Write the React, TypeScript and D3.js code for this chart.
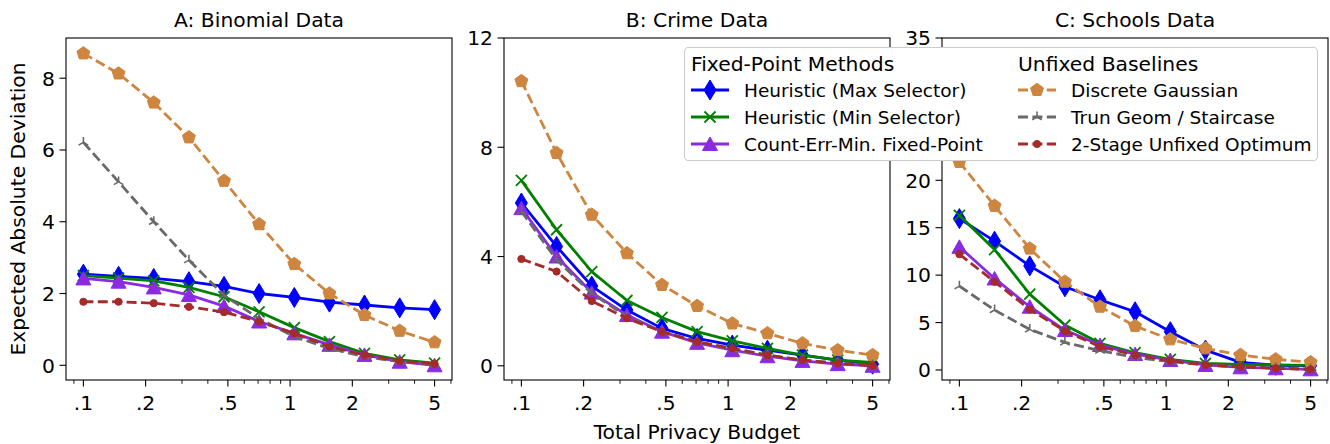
import React from 'react';
import * as d3 from 'd3';

// privacy budgets (x)
const budgets = [0.1, 0.148, 0.219, 0.324, 0.479, 0.708, 1.048, 1.55, 2.29, 3.39, 5];
const xMajor = [0.1, 0.2, 0.5, 1, 2, 5];
const xMajorLabels = ['.1', '.2', '.5', '1', '2', '5'];
const xMinor = [0.09, 0.3, 0.4, 0.6, 0.7, 0.8, 0.9, 3, 4, 6];

// A: Binomial
const binomMax = [2.54, 2.48, 2.42, 2.33, 2.2, 2.0, 1.89, 1.76, 1.68, 1.6, 1.55];
const binomMin = [2.5, 2.43, 2.35, 2.17, 1.91, 1.49, 1.05, 0.66, 0.33, 0.15, 0.06];
const binomCount = [2.42, 2.33, 2.17, 1.96, 1.65, 1.22, 0.89, 0.57, 0.29, 0.1, 0.0];
const binomGauss = [8.69, 8.13, 7.32, 6.35, 5.14, 3.93, 2.82, 2.0, 1.4, 0.96, 0.64];
const binomGeom = [6.21, 5.11, 4.0, 2.93, 1.95, 1.3, 0.8, 0.47, 0.24, 0.1, 0.03];
const binomTwoStage = [1.77, 1.77, 1.73, 1.63, 1.48, 1.22, 0.89, 0.52, 0.29, 0.12, 0.04];

// B: Crime
const crimeMax = [5.96, 4.37, 2.92, 2.04, 1.37, 1.0, 0.76, 0.57, 0.39, 0.21, 0.06];
const crimeMin = [6.79, 4.98, 3.45, 2.39, 1.77, 1.25, 0.91, 0.64, 0.39, 0.21, 0.12];
const crimeCount = [5.77, 4.0, 2.68, 1.86, 1.25, 0.84, 0.57, 0.35, 0.18, 0.06, 0.0];
const crimeGauss = [10.42, 7.79, 5.53, 4.12, 2.96, 2.19, 1.55, 1.19, 0.82, 0.57, 0.39];
const crimeGeom = [5.65, 3.88, 2.65, 1.8, 1.25, 0.88, 0.6, 0.39, 0.21, 0.09, 0.02];
const crimeTwoStage = [3.91, 3.45, 2.37, 1.74, 1.25, 0.88, 0.64, 0.39, 0.21, 0.09, 0.01];

// C: Schools
const schoolMax = [15.96, 13.58, 10.98, 8.77, 7.4, 6.14, 4.04, 2.1, 0.8, 0.5, 0.45];
const schoolMin = [16.3, 12.7, 8.0, 4.74, 2.81, 1.82, 1.12, 0.7, 0.6, 0.53, 0.49];
const schoolCount = [12.98, 9.65, 6.67, 4.21, 2.63, 1.68, 1.05, 0.53, 0.28, 0.18, 0.07];
const schoolGauss = [21.93, 17.3, 12.8, 9.3, 6.67, 4.63, 3.23, 2.28, 1.58, 1.12, 0.81];
const schoolGeom = [8.84, 6.32, 4.28, 2.91, 2.04, 1.33, 0.88, 0.53, 0.35, 0.21, 0.1];
const schoolTwoStage = [12.21, 9.3, 6.39, 4.1, 2.46, 1.58, 0.98, 0.53, 0.35, 0.18, 0.07];

const methods = [
  { key: 'max', label: 'Heuristic (Max Selector)', color: '#0000ff', marker: 'diamond', dashed: false },
  { key: 'min', label: 'Heuristic (Min Selector)', color: '#008000', marker: 'x', dashed: false },
  { key: 'count', label: 'Count-Err-Min. Fixed-Point', color: '#8a2be2', marker: 'triangle', dashed: false },
  { key: 'gauss', label: 'Discrete Gaussian', color: '#cd853f', marker: 'pentagon', dashed: true },
  { key: 'geom', label: 'Trun Geom / Staircase', color: '#696969', marker: 'tri', dashed: true },
  { key: 'two', label: '2-Stage Unfixed Optimum', color: '#a52a2a', marker: 'circle', dashed: true },
];

const panels = [
  {
    title: 'A: Binomial Data', left: 66, right: 452, yDomain: [-0.41, 9.12], yTicks: [0, 2, 4, 6, 8],
    series: { max: binomMax, min: binomMin, count: binomCount, gauss: binomGauss, geom: binomGeom, two: binomTwoStage },
  },
  {
    title: 'B: Crime Data', left: 504, right: 890, yDomain: [-0.52, 12], yTicks: [0, 4, 8, 12],
    series: { max: crimeMax, min: crimeMin, count: crimeCount, gauss: crimeGauss, geom: crimeGeom, two: crimeTwoStage },
  },
  {
    title: 'C: Schools Data', left: 942, right: 1328, yDomain: [-1.055, 35], yTicks: [0, 5, 10, 15, 20, 25, 30, 35],
    series: { max: schoolMax, min: schoolMin, count: schoolCount, gauss: schoolGauss, geom: schoolGeom, two: schoolTwoStage },
  },
];

const TOP = 38;
const BOTTOM = 380;
const FONT = 'DejaVu Sans, sans-serif';
const LW = 2.8;
const FS = 20.3;
const DASH = '10,4.4';

const Marker = ({ type, x, y, color }: { type: string; x: number; y: number; color: string }) => {
  if (type === 'diamond') {
    return <path d={`M${x},${y - 10}L${x + 6},${y}L${x},${y + 10}L${x - 6},${y}Z`} fill={color} stroke={color} strokeWidth={1} />;
  }
  if (type === 'x') {
    const r = 5.5;
    return <path d={`M${x - r},${y - r}L${x + r},${y + r}M${x - r},${y + r}L${x + r},${y - r}`} stroke={color} strokeWidth={1.8} fill="none" />;
  }
  if (type === 'triangle') {
    return <path d={`M${x},${y - 7}L${x + 7.5},${y + 6.5}L${x - 7.5},${y + 6.5}Z`} fill={color} stroke={color} strokeWidth={1} />;
  }
  if (type === 'pentagon') {
    const pts = d3.range(5).map(i => {
      const a = -Math.PI / 2 + (i * 2 * Math.PI) / 5;
      return `${x + 6.8 * Math.cos(a)},${y + 6.8 * Math.sin(a)}`;
    });
    return <polygon points={pts.join(' ')} fill={color} stroke={color} strokeWidth={1} />;
  }
  if (type === 'tri') {
    const r = 5.5;
    return (
      <path
        d={`M${x},${y}L${x},${y - r}M${x},${y}L${x - 0.87 * r},${y + 0.5 * r}M${x},${y}L${x + 0.87 * r},${y + 0.5 * r}`}
        stroke={color} strokeWidth={1.6} fill="none"
      />
    );
  }
  return <circle cx={x} cy={y} r={3.6} fill={color} stroke={color} strokeWidth={1} />;
};

const Panel = ({ panel, showYLabel }: any) => {
  const x = d3.scaleLog().domain([0.0824, 6.07]).range([panel.left, panel.right]);
  const y = d3.scaleLinear().domain(panel.yDomain).range([BOTTOM, TOP]);
  const line = d3.line<number>().x((_, i) => x(budgets[i])).y(d => y(d));
  const mid = (panel.left + panel.right) / 2;

  return (
    <g>
      <text x={mid} y={27} textAnchor="middle" fontSize={FS} fill="#000">{panel.title}</text>

      {methods.map(m => {
        const vals: number[] = panel.series[m.key];
        return (
          <g key={m.key}>
            <path
              d={line(vals) || ''}
              fill="none"
              stroke={m.color}
              strokeWidth={LW}
              strokeDasharray={m.dashed ? DASH : undefined}
              strokeLinejoin="round"
            />
            {vals.map((v, i) => (
              <Marker key={i} type={m.marker} x={x(budgets[i])} y={y(v)} color={m.color} />
            ))}
          </g>
        );
      })}

      <rect x={panel.left} y={TOP} width={panel.right - panel.left} height={BOTTOM - TOP} fill="none" stroke="#000" strokeWidth={1.1} />

      {panel.yTicks.map((t: number) => (
        <g key={t}>
          <line x1={panel.left - 6.5} x2={panel.left} y1={y(t)} y2={y(t)} stroke="#000" strokeWidth={1.1} />
          <text x={panel.left - 11} y={y(t)} dy="0.36em" textAnchor="end" fontSize={FS}>{t}</text>
        </g>
      ))}

      {xMajor.map((t, i) => (
        <g key={t}>
          <line x1={x(t)} x2={x(t)} y1={BOTTOM} y2={BOTTOM + 6.5} stroke="#000" strokeWidth={1.1} />
          <text x={x(t)} y={403} dy="0.36em" textAnchor="middle" fontSize={FS}>{xMajorLabels[i]}</text>
        </g>
      ))}
      {xMinor.map(t => (
        <line key={t} x1={x(t)} x2={x(t)} y1={BOTTOM} y2={BOTTOM + 3.8} stroke="#000" strokeWidth={0.9} />
      ))}

      {showYLabel && (
        <text transform={`translate(18, ${(TOP + BOTTOM) / 2}) rotate(-90)`} dy="0.36em" textAnchor="middle" fontSize={FS}>
          Expected Absolute Deviation
        </text>
      )}
    </g>
  );
};

const Legend = () => {
  const rows = [90, 117, 144];
  const cols = [691, 1018];
  return (
    <g>
      <rect x={684.5} y={47.5} width={633} height={113} rx={4} fill="#fff" stroke="#cccccc" strokeWidth={1.1} />
      <text x={cols[0]} y={64} dy="0.36em" fontSize={FS}>Fixed-Point Methods</text>
      <text x={cols[1]} y={64} dy="0.36em" fontSize={FS}>Unfixed Baselines</text>
      {methods.map((m, i) => {
        const cx = cols[Math.floor(i / 3)];
        const cy = rows[i % 3];
        return (
          <g key={m.key}>
            <line x1={cx} x2={cx + 38} y1={cy} y2={cy} stroke={m.color} strokeWidth={LW} strokeDasharray={m.dashed ? DASH : undefined} />
            <Marker type={m.marker} x={cx + 19} y={cy} color={m.color} />
            <text x={cx + 53} y={cy} dy="0.36em" fontSize={18.5}>{m.label}</text>
          </g>
        );
      })}
    </g>
  );
};

export default function App() {
  return (
    <svg
      width={1330}
      height={444}
      style={{ position: 'absolute', left: 0, top: 0, background: '#fff' }}
      fontFamily={FONT}
    >
      {panels.map((p, i) => (
        <Panel key={p.title} panel={p} showYLabel={i === 0} />
      ))}
      <text x={697} y={432} dy="0.36em" textAnchor="middle" fontSize={FS}>Total Privacy Budget</text>
      <Legend />
    </svg>
  );
}
